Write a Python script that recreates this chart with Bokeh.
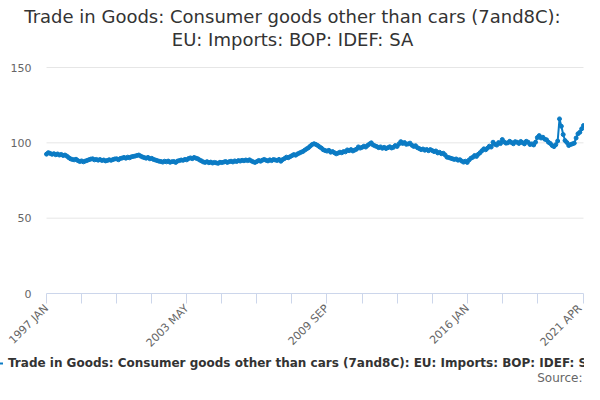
import numpy as np
from bokeh.plotting import figure
from bokeh.models import (Range1d, FixedTicker, Title, Legend, LegendItem, Label,
                          ColumnDataSource)
from bokeh.embed import file_html
from bokeh.resources import INLINE

# monthly index values, 1997 JAN .. 2021 APR
y1997 = [92.5, 93.5, 93.0, 92.4, 92.8, 92.1, 92.6, 91.9, 92.3, 91.6, 91.9, 91.2]
y1998 = [90.2, 89.4, 89.0, 88.7, 89.1, 88.2, 87.6, 88.0, 87.4, 87.9, 88.3, 88.8]
y1999 = [89.2, 89.4, 88.7, 89.0, 88.5, 88.9, 88.3, 88.6, 88.0, 88.3, 88.8, 88.4]
y2000 = [88.9, 89.3, 89.4, 88.8, 89.6, 89.9, 90.3, 89.8, 90.5, 90.1, 90.7, 91.0]
y2001 = [91.2, 91.6, 91.9, 91.2, 90.6, 90.2, 89.8, 90.3, 89.4, 89.7, 89.0, 88.6]
y2002 = [88.2, 87.8, 87.6, 87.2, 87.8, 87.4, 87.9, 87.1, 87.5, 87.6, 87.0, 87.9]
y2003 = [88.2, 88.6, 88.4, 89.0, 88.7, 89.6, 90.0, 89.5, 90.3, 89.8, 89.4, 88.6]
y2004 = [88.0, 87.3, 87.0, 87.5, 86.8, 87.2, 86.6, 87.0, 86.7, 86.4, 87.1, 86.9]
y2005 = [87.2, 87.6, 87.0, 87.5, 87.8, 87.3, 88.0, 87.6, 88.2, 87.9, 88.4, 88.1]
y2006 = [88.6, 88.2, 88.7, 88.0, 87.4, 87.0, 87.6, 88.3, 87.8, 88.5, 89.0, 88.4]
y2007 = [88.0, 88.7, 88.2, 88.9, 88.6, 88.3, 89.0, 87.8, 88.9, 89.6, 90.5, 90.1]
y2008 = [90.8, 91.5, 92.2, 91.8, 92.6, 93.2, 93.8, 94.3, 95.2, 96.0, 96.8, 97.9]
y2009 = [98.9, 99.4, 98.9, 98.2, 97.3, 96.5, 95.4, 94.9, 94.5, 95.0, 93.8, 94.2]
y2010 = [93.5, 92.7, 93.2, 93.8, 93.4, 94.2, 94.0, 95.3, 94.8, 95.5, 94.6, 95.2]
y2011 = [95.8, 97.3, 96.5, 97.0, 97.8, 97.2, 98.3, 99.2, 100.0, 98.6, 98.0, 97.5]
y2012 = [96.8, 97.3, 96.4, 97.0, 96.2, 96.8, 97.4, 96.6, 97.0, 98.2, 97.6, 99.3]
y2013 = [100.8, 99.6, 100.2, 99.0, 99.3, 99.8, 98.4, 97.6, 98.1, 96.8, 96.2, 95.5]
y2014 = [95.9, 95.1, 95.6, 94.8, 95.5, 94.9, 94.2, 94.6, 93.3, 93.7, 92.8, 93.1]
y2015 = [92.0, 90.5, 90.2, 89.8, 89.4, 89.0, 89.3, 88.5, 88.8, 87.9, 87.2, 87.8]
y2016 = [87.0, 88.6, 89.8, 90.4, 91.6, 91.0, 92.4, 93.5, 94.8, 96.0, 95.4, 96.5]
y2017 = [97.8, 97.2, 100.4, 99.0, 98.5, 100.2, 99.5, 102.2, 100.6, 99.8, 100.0, 101.0]
y2018 = [100.2, 99.4, 100.8, 100.4, 99.6, 100.9, 100.1, 99.3, 101.0, 100.4, 98.9, 99.3]
y2019 = [98.6, 100.4, 103.5, 104.8, 103.2, 103.7, 102.4, 102.0, 100.4, 99.6, 98.2, 97.5]
y2020 = [98.8, 101.2, 115.9, 111.0, 105.5, 101.5, 100.2, 98.2, 98.9, 99.3, 99.8, 103.2]
y2021 = [106.0, 107.0, 109.3, 111.5]

values = (y1997 + y1998 + y1999 + y2000 + y2001 + y2002 + y2003 + y2004 + y2005
          + y2006 + y2007 + y2008 + y2009 + y2010 + y2011 + y2012 + y2013 + y2014
          + y2015 + y2016 + y2017 + y2018 + y2019 + y2020 + y2021)
months = list(range(len(values)))

tick_positions = list(range(0, 280, 19)) + [291]
tick_labels = {0: "1997 JAN", 76: "2003 MAY", 152: "2009 SEP", 228: "2016 JAN", 291: "2021 APR"}
y_ticks = [0, 50, 100, 150]

series_name = "Trade in Goods: Consumer goods other than cars (7and8C): EU: Imports: BOP: IDEF: SA"
title_lines = ["Trade in Goods: Consumer goods other than cars (7and8C):",
               "EU: Imports: BOP: IDEF: SA"]
source_text = "Source:"

FONT = "DejaVu Sans"
BLUE = "#0b7bc4"
W, H = 584, 384

# the frame covers the whole area under the titles, so legend and source can
# sit inside it; the axes are pinned to x=0 / y=0
TOP = 49                     # frame top (px)
PLOT_L, PLOT_R = 46, 583     # where first/last month land
PLOT_T, PLOT_B = 67, 293     # where 150 / 0 land
xpx = (PLOT_R - PLOT_L) / (months[-1] - months[0])
ypx = (PLOT_B - PLOT_T) / (y_ticks[-1] - y_ticks[0])
x_range = Range1d(months[0] - PLOT_L / xpx, months[-1] + (W - PLOT_R) / xpx)
y_range = Range1d(y_ticks[0] - (H - PLOT_B) / ypx, y_ticks[-1] + (PLOT_T - TOP) / ypx)

src = ColumnDataSource(dict(x=months, y=values))

p = figure(width=W, height=H, output_backend="svg", toolbar_location=None,
           x_range=x_range, y_range=y_range,
           min_border_left=0, min_border_right=0, min_border_top=TOP, min_border_bottom=0,
           outline_line_color=None)
p.title.visible = False

# titles (first added sits closest to the plot)
p.add_layout(Title(text=title_lines[1], align="center", text_font=FONT, text_font_size="18px",
                   text_font_style="normal", text_color="#333333", standoff=0), "above")
p.add_layout(Title(text=title_lines[0], align="center", text_font=FONT, text_font_size="18px",
                   text_font_style="normal", text_color="#333333", standoff=0), "above")

# horizontal grid lines over the data span only
p.xgrid.grid_line_color = None
p.ygrid.grid_line_color = None
p.segment(x0=[months[0]] * (len(y_ticks) - 1), x1=[months[-1]] * (len(y_ticks) - 1),
          y0=y_ticks[1:], y1=y_ticks[1:], line_color="#e6e6e6", line_width=1)

r_line = p.line("x", "y", source=src, line_color=BLUE, line_width=2)
r_dots = p.scatter("x", "y", source=src, size=4, fill_color=BLUE, line_color=BLUE)

# axes
p.xaxis.fixed_location = 0
p.xaxis.bounds = (months[0], months[-1])
p.xaxis.ticker = FixedTicker(ticks=tick_positions)
p.xaxis.major_label_overrides = {t: tick_labels.get(t, "") for t in tick_positions}
p.xaxis.major_label_orientation = np.pi / 4
p.xaxis.axis_line_color = "#ccd6eb"
p.xaxis.major_tick_line_color = "#ccd6eb"
p.xaxis.major_tick_in = 0
p.xaxis.major_tick_out = 10
p.xaxis.minor_tick_line_color = None
p.xaxis.major_label_text_font = FONT
p.xaxis.major_label_text_font_size = "11px"
p.xaxis.major_label_text_color = "#666666"
p.xaxis.major_label_standoff = 3

p.yaxis.fixed_location = months[0]
p.yaxis.ticker = FixedTicker(ticks=y_ticks)
p.yaxis.axis_line_color = None
p.yaxis.major_tick_line_color = None
p.yaxis.major_tick_out = 0
p.yaxis.major_tick_in = 0
p.yaxis.minor_tick_line_color = None
p.yaxis.major_label_text_font = FONT
p.yaxis.major_label_text_font_size = "11px"
p.yaxis.major_label_text_color = "#666666"
p.yaxis.major_label_standoff = 15

legend = Legend(items=[LegendItem(label=series_name, renderers=[r_line, r_dots])],
                location=(-13, H - 363 - 7), orientation="horizontal",
                label_text_font=FONT, label_text_font_size="12px",
                label_text_font_style="bold", label_text_color="#333333",
                glyph_width=16, glyph_height=14, label_height=14,
                padding=0, margin=0, border_line_color=None,
                background_fill_alpha=0, label_standoff=5)
p.add_layout(legend, "center")

p.add_layout(Label(x=W - 2, y=H - 377, x_units="screen", y_units="screen", text=source_text,
                   text_align="right", text_baseline="middle", text_font=FONT,
                   text_font_size="12px", text_color="#666666"))

open("out.html", "w").write(file_html(p, INLINE))
